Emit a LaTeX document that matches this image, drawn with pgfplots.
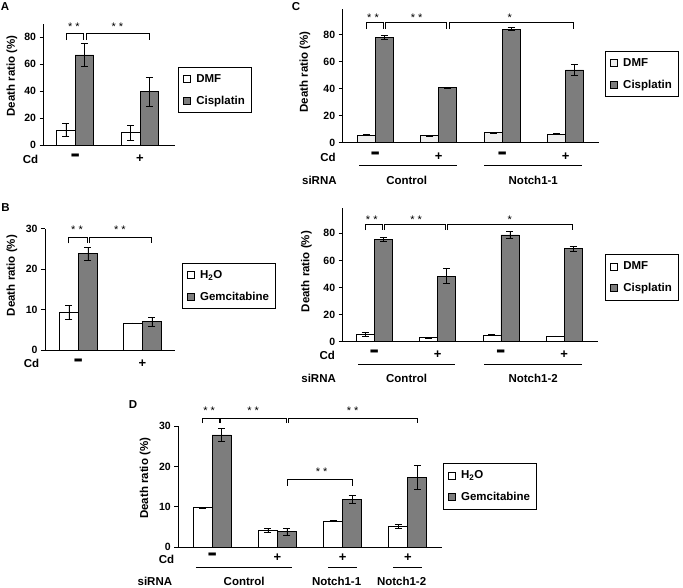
\documentclass[border=0pt]{standalone}
\usepackage{fontspec}
\setmainfont{Liberation Sans}[BoldFont={Liberation Sans Bold}]
\usepackage{pgfplots}
\pgfplotsset{compat=1.18}
\definecolor{bargray}{RGB}{125,125,125}
\definecolor{lightbar}{RGB}{238,238,238}
\newcommand{\lbl}{\fontsize{11.5}{13}\selectfont\bfseries}
\newcommand{\mn}{\scalebox{1.15}[2.3]{–}}
\pgfplotsset{
  sqleg/.style={legend image code/.code={\draw[##1,line width=0.6pt,draw=black] (1pt,-3.5pt) rectangle (8pt,3.5pt); \path[draw=none,fill=none] (0pt,0pt) rectangle (12pt,0.1pt);}},
  wbar/.style={fill=white,draw=black,line width=0.7pt,sqleg},
  gbar/.style={fill=bargray,draw=black,line width=0.7pt,sqleg},
  panel/.style={
    scale only axis, ybar=0pt, ymin=0, clip=false,
    axis x line*=bottom, axis y line*=left,
    axis line style={line width=0.9pt,-},
    xtick=\empty, ytick pos=left, tick align=outside,
    major tick length=4pt, major tick style={line width=0.9pt,black},
    /pgf/number format/assume math mode=true,
    tick label style={font=\fontsize{10.5}{12}\selectfont\bfseries},
    ylabel={Death ratio (\%)},
    ylabel style={font=\lbl,anchor=center},
    legend style={draw=black,line width=0.6pt,anchor=north west,font=\lbl,
      inner xsep=4pt,inner ysep=5pt,row sep=8pt},
    legend cell align=left,
    error bars/y dir=both, error bars/y explicit,
    error bars/error bar style={black,line width=0.6pt},
    error bars/error mark options={black,line width=0.6pt,mark size=3.5pt,rotate=90},
  },
}
\tikzset{lb/.style={font=\lbl}, br/.style={line width=0.8pt,black},
  st/.style={font=\fontsize{11}{12}\selectfont}, sg/.style={font=\fontsize{13}{14}\selectfont\bfseries}}

\begin{document}
\begin{tikzpicture}
\path[use as bounding box] (0,0) rectangle (683pt,-587pt);

% ---------- A ----------
\begin{axis}[panel, at={(43.5pt,-145pt)}, anchor=south west,
  width=131.5pt, height=121.1pt, ymax=90, xmin=-0.49, xmax=1.54,
  ytick={0,20,40,60,80}, bar width=18.5pt,
  ylabel style={at={(axis description cs:-0.24,0.57)}},
  legend style={at={(1.023,0.644)}}]
\addplot[wbar] coordinates {(0,11.1) +- (0,4.7) (1,9.1) +- (0,5.6)};
\addlegendentry{DMF}
\addplot[gbar] coordinates {(0,66.9) +- (0,8.6) (1,39.6) +- (0,10.6)};
\addlegendentry{Cisplatin}
\draw[br] (axis cs:-0.143,78) |- (axis cs:0.12,83) -- (axis cs:0.12,78);
\draw[br] (axis cs:0.166,78) |- (axis cs:1.143,83) -- (axis cs:1.143,78);
\node[st] at (axis cs:-0.02,88) {* *};
\node[st] at (axis cs:0.65,88) {* *};
\node[lb] at (axis cs:-0.69,-10.4) {Cd};
\node[sg] at (axis cs:0,-10.4) {\mn};
\node[sg] at (axis cs:1,-10.4) {+};
\end{axis}

% ---------- B ----------
\begin{axis}[panel, at={(45pt,-350pt)}, anchor=south west,
  width=130pt, height=121.3pt, ymax=30, xmin=-0.52, xmax=1.51,
  ytick={0,10,20,30}, bar width=19pt,
  ylabel style={at={(axis description cs:-0.254,0.614)}},
  legend style={at={(1.052,0.717)}}]
\addplot[wbar] coordinates {(0,9.3) +- (0,1.7) (1,6.7) +- (0,0)};
\addlegendentry{H\textsubscript{2}O}
\addplot[gbar] coordinates {(0,23.8) +- (0,1.6) (1,7.0) +- (0,1.2)};
\addlegendentry{Gemcitabine}
\draw[br] (axis cs:-0.148,26.4) |- (axis cs:0.14,27.9) -- (axis cs:0.14,26.4);
\draw[br] (axis cs:0.167,26.4) |- (axis cs:1.148,27.9) -- (axis cs:1.148,26.4);
\node[st] at (axis cs:-0.02,29.8) {* *};
\node[st] at (axis cs:0.65,29.8) {* *};
\node[lb] at (axis cs:-0.73,-3.3) {Cd};
\node[sg] at (axis cs:0,-3.3) {\mn};
\node[sg] at (axis cs:1,-3.3) {+};
\end{axis}

% ---------- C (Notch1-1) ----------
\begin{axis}[panel, at={(342.7pt,-142.7pt)}, anchor=south west,
  width=256.6pt, height=133.4pt, ymax=98.8, xmin=-0.513, xmax=3.529,
  ytick={0,20,40,60,80}, bar width=18pt,
  ylabel style={at={(axis description cs:-0.147,0.53)}},
  legend style={at={(1.022,0.687)}}]
\addplot[wbar,fill=lightbar] coordinates {(0,5.7) +- (0,0.3) (1,5.2) +- (0,0.3) (2,7.4) +- (0,0.3) (3,6.4) +- (0,0.3)};
\addlegendentry{DMF}
\addplot[gbar] coordinates {(0,77.8) +- (0,1.4) (1,40.7) +- (0,0.4) (2,84.0) +- (0,1.1) (3,53.9) +- (0,4.2)};
\addlegendentry{Cisplatin}
\draw[br] (axis cs:-0.142,84.2) |- (axis cs:0.125,89.2) -- (axis cs:0.125,84.2);
\draw[br] (axis cs:0.16,84.2) |- (axis cs:1.125,89.2) -- (axis cs:1.125,84.2);
\draw[br] (axis cs:1.16,84.2) |- (axis cs:3.125,89.2) -- (axis cs:3.125,84.2);
\node[st] at (axis cs:-0.036,92.5) {* *};
\node[st] at (axis cs:0.652,92.5) {* *};
\node[st] at (axis cs:2.12,92.5) {*};
\node[lb] at (axis cs:-0.745,-10.6) {Cd};
\node[sg] at (axis cs:0,-10.6) {\mn};
\node[sg] at (axis cs:1,-10.6) {+};
\node[sg] at (axis cs:2,-10.6) {\mn};
\node[sg] at (axis cs:3,-10.6) {+};
\draw[line width=0.6pt] (axis cs:-0.252,-17) -- (axis cs:1.282,-17);
\draw[line width=0.6pt] (axis cs:1.717,-17) -- (axis cs:3.261,-17);
\node[lb] at (axis cs:-0.88,-28) {siRNA};
\node[lb] at (axis cs:0.495,-28) {Control};
\node[lb] at (axis cs:2.489,-28) {Notch1-1};
\end{axis}

% ---------- C (Notch1-2) ----------
\begin{axis}[panel, at={(342.7pt,-341.7pt)}, anchor=south west,
  width=255.6pt, height=133.4pt, ymax=98.5, xmin=-0.5, xmax=3.54,
  ytick={0,20,40,60,80}, bar width=18pt,
  ylabel style={at={(axis description cs:-0.142,0.526)}},
  legend style={at={(1.026,0.655)}}]
\addplot[wbar] coordinates {(0,5.5) +- (0,1.4) (1,3.0) +- (0,0.3) (2,5.0) +- (0,0.3) (3,4.0) +- (0,0.3)};
\addlegendentry{DMF}
\addplot[gbar] coordinates {(0,75.6) +- (0,1.4) (1,48.5) +- (0,5.5) (2,78.8) +- (0,2.4) (3,68.7) +- (0,1.9)};
\addlegendentry{Cisplatin}
\draw[br] (axis cs:-0.142,82.3) |- (axis cs:0.125,86.7) -- (axis cs:0.125,82.3);
\draw[br] (axis cs:0.16,82.3) |- (axis cs:1.125,86.7) -- (axis cs:1.125,82.3);
\draw[br] (axis cs:1.16,82.3) |- (axis cs:3.125,86.7) -- (axis cs:3.125,82.3);
\node[st] at (axis cs:-0.04,90) {* *};
\node[st] at (axis cs:0.66,90) {* *};
\node[st] at (axis cs:2.14,90) {*};
\node[lb] at (axis cs:-0.745,-9.8) {Cd};
\node[sg] at (axis cs:0,-9.8) {\mn};
\node[sg] at (axis cs:1,-9.8) {+};
\node[sg] at (axis cs:2,-9.8) {\mn};
\node[sg] at (axis cs:3,-9.8) {+};
\draw[line width=0.6pt] (axis cs:-0.253,-16.5) -- (axis cs:1.277,-16.5);
\draw[line width=0.6pt] (axis cs:1.74,-16.5) -- (axis cs:3.28,-16.5);
\node[lb] at (axis cs:-0.88,-27) {siRNA};
\node[lb] at (axis cs:0.51,-27) {Control};
\node[lb] at (axis cs:2.51,-27) {Notch1-2};
\end{axis}

% ---------- D ----------
\begin{axis}[panel, at={(178.3pt,-547.3pt)}, anchor=south west,
  width=263.4pt, height=121.3pt, ymax=30, xmin=-0.52, xmax=3.52,
  ytick={0,10,20,30}, bar width=19pt,
  ylabel style={at={(axis description cs:-0.126,0.569)}},
  legend style={at={(1.004,0.692)}}]
\addplot[wbar] coordinates {(0,9.8) +- (0,0.1) (1,4.1) +- (0,0.5) (2,6.5) +- (0,0.1) (3,5.1) +- (0,0.5)};
\addlegendentry{H\textsubscript{2}O}
\addplot[gbar] coordinates {(0,27.8) +- (0,1.7) (1,3.9) +- (0,0.9) (2,11.9) +- (0,1.0) (3,17.3) +- (0,2.9)};
\addlegendentry{Gemcitabine}
\draw[br] (axis cs:-0.146,30.7) |- (axis cs:0.118,31.9) -- (axis cs:0.118,30.7);
\draw[br] (axis cs:0.13,30.7) |- (axis cs:1.141,31.9) -- (axis cs:1.141,30.7);
\draw[br] (axis cs:1.166,30.7) |- (axis cs:3.146,31.9) -- (axis cs:3.146,30.7);
\draw[br] (axis cs:1.146,15.2) |- (axis cs:2.146,16.8) -- (axis cs:2.146,15.2);
\node[st] at (axis cs:-0.046,33.8) {* *};
\node[st] at (axis cs:0.629,33.8) {* *};
\node[st] at (axis cs:2.153,33.8) {* *};
\node[st] at (axis cs:1.678,18.6) {* *};
\node[lb] at (axis cs:-0.70,-3.0) {Cd};
\node[sg] at (axis cs:0,-2.6) {\mn};
\node[sg] at (axis cs:1,-2.6) {+};
\node[sg] at (axis cs:2,-2.6) {+};
\node[sg] at (axis cs:3,-2.6) {+};
\draw[line width=0.6pt] (axis cs:-0.25,-5.05) -- (axis cs:1.227,-5.05);
\draw[line width=0.6pt] (axis cs:1.779,-5.05) -- (axis cs:2.224,-5.05);
\draw[line width=0.6pt] (axis cs:2.776,-5.05) -- (axis cs:3.221,-5.05);
\node[lb] at (axis cs:-0.879,-8.35) {siRNA};
\node[lb] at (axis cs:0.49,-8.35) {Control};
\node[lb] at (axis cs:1.908,-8.35) {Notch1-1};
\node[lb] at (axis cs:2.905,-8.35) {Notch1-2};
\end{axis}

% panel letters
\node[lb] at (5pt,-7pt) {A};
\node[lb] at (5.5pt,-208pt) {B};
\node[lb] at (296pt,-7pt) {C};
\node[lb] at (133pt,-405pt) {D};
\end{tikzpicture}
\end{document}
